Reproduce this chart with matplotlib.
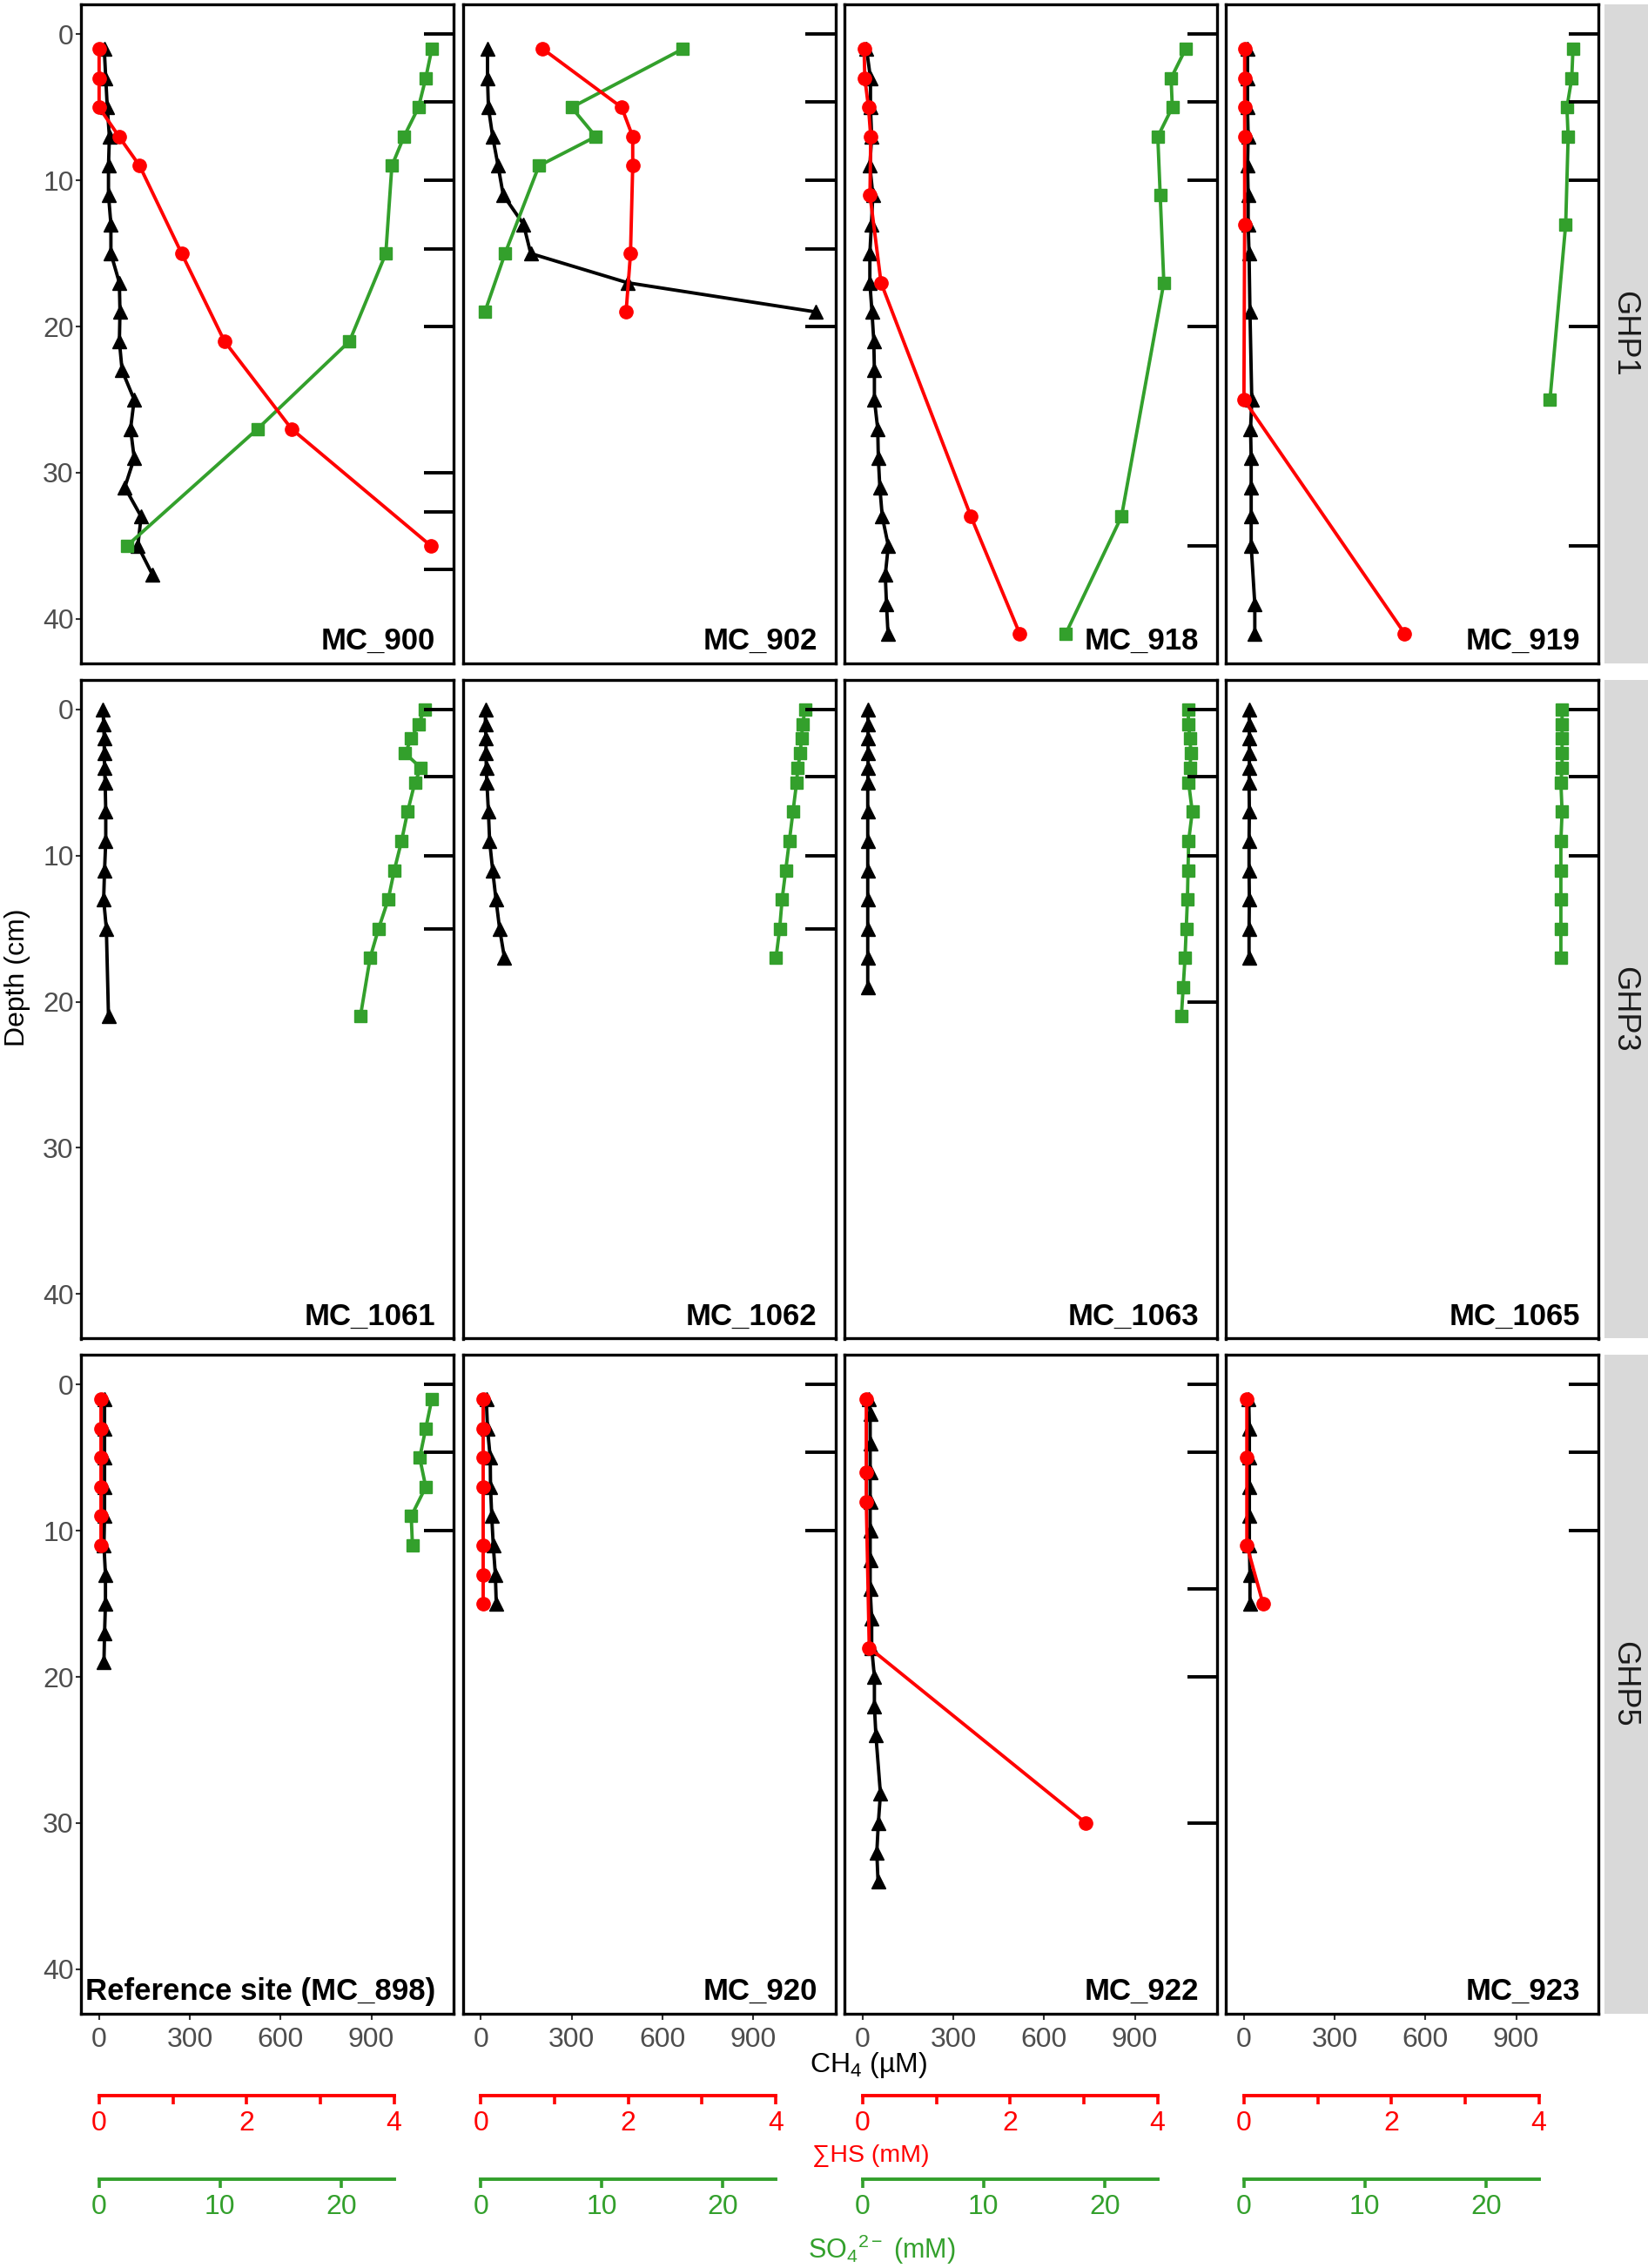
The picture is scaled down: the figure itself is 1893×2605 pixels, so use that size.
import numpy as np
import matplotlib
matplotlib.use('Agg')
import matplotlib.pyplot as plt
import matplotlib.transforms as mtransforms

plt.rcParams['font.family'] = ['Liberation Sans', 'DejaVu Sans']
plt.rcParams['mathtext.fontset'] = 'custom'
plt.rcParams['mathtext.rm'] = 'Liberation Sans'
plt.rcParams['mathtext.it'] = 'Liberation Sans:italic'
plt.rcParams['mathtext.bf'] = 'Liberation Sans:bold'

# secondary scales drawn on the CH4 axis (uM per mM)
HS_SCALE = 243.75
SO4_SCALE = 40.0

# ---- GHP1 ----
mc900_ch4_depth = [1, 3, 5, 7, 9, 11, 13, 15, 17, 19, 21, 23, 25, 27, 29, 31, 33, 35, 37]
mc900_ch4 = [17, 22, 27, 34, 31, 31, 39, 39, 67, 69, 67, 76, 116, 104, 116, 85, 139, 128, 177]
mc900_hs_depth = [1, 3, 5, 7, 9, 15, 21, 27, 35]
mc900_hs = [0, 0, 0, 0.27, 0.55, 1.12, 1.70, 2.61, 4.50]
mc900_so4_depth = [1, 3, 5, 7, 9, 15, 21, 27, 35]
mc900_so4 = [27.5, 27.0, 26.4, 25.2, 24.2, 23.7, 20.7, 13.1, 2.3]
mc900_marks = [0, 4.6, 10, 14.7, 20, 30, 32.7, 36.6]

mc902_ch4_depth = [1, 3, 5, 7, 9, 11, 13, 15, 17, 19]
mc902_ch4 = [22, 22, 25, 39, 57, 74, 141, 165, 485, 1108]
mc902_hs_depth = [1, 5, 7, 9, 15, 19]
mc902_hs = [0.84, 1.91, 2.06, 2.06, 2.03, 1.97]
mc902_so4_depth = [1, 5, 7, 9, 15, 19]
mc902_so4 = [16.7, 7.5, 9.5, 4.8, 2.0, 0.33]
mc902_marks = [0, 4.6, 10, 14.7, 20]

mc918_ch4_depth = [1, 3, 5, 7, 9, 11, 13, 15, 17, 19, 21, 23, 25, 27, 29, 31, 33, 35, 37, 39, 41]
mc918_ch4 = [13, 26, 26, 30, 24, 34, 29, 24, 24, 31, 37, 39, 39, 50, 52, 57, 65, 85, 75, 79, 84]
mc918_hs_depth = [1, 3, 5, 7, 11, 17, 33, 41]
mc918_hs = [0.02, 0.03, 0.08, 0.11, 0.10, 0.25, 1.47, 2.13]
mc918_so4_depth = [1, 3, 5, 7, 11, 17, 33, 41]
mc918_so4 = [26.7, 25.5, 25.6, 24.4, 24.6, 24.9, 21.4, 16.8]
mc918_marks = [0, 4.6, 10, 20, 35]

mc919_ch4_depth = [1, 3, 5, 7, 9, 11, 13, 15, 19, 25, 27, 29, 31, 33, 35, 39, 41]
mc919_ch4 = [12, 12, 12, 14, 12, 14, 14, 17, 20, 26, 22, 24, 24, 24, 24, 36, 36]
mc919_hs_depth = [1, 3, 5, 7, 13, 25, 41]
mc919_hs = [0.01, 0.01, 0.01, 0.01, 0.01, 0.0, 2.18]
mc919_so4_depth = [1, 3, 5, 7, 13, 25]
mc919_so4 = [27.2, 27.1, 26.7, 26.8, 26.6, 25.3]
mc919_marks = [0, 4.6, 10, 20, 35]

# ---- GHP3 ----
mc1061_ch4_depth = [0, 1, 2, 3, 4, 5, 7, 9, 11, 13, 15, 21]
mc1061_ch4 = [13, 15, 17, 17, 18, 20, 22, 22, 18, 15, 24, 31]
mc1061_so4_depth = [0, 1, 2, 3, 4, 5, 7, 9, 11, 13, 15, 17, 21]
mc1061_so4 = [26.9, 26.4, 25.8, 25.3, 26.6, 26.1, 25.5, 25.0, 24.4, 23.9, 23.1, 22.4, 21.6]
mc1061_marks = [0, 4.6, 10, 15]

mc1062_ch4_depth = [0, 1, 2, 3, 4, 5, 7, 9, 11, 13, 15, 17]
mc1062_ch4 = [15, 15, 17, 17, 18, 20, 25, 29, 39, 50, 62, 78]
mc1062_so4_depth = [0, 1, 2, 3, 4, 5, 7, 9, 11, 13, 15, 17]
mc1062_so4 = [26.8, 26.6, 26.5, 26.4, 26.2, 26.1, 25.8, 25.5, 25.2, 24.9, 24.7, 24.4]
mc1062_marks = [0, 4.6, 10, 15]

mc1063_ch4_depth = [0, 1, 2, 3, 4, 5, 7, 9, 11, 13, 15, 17, 19]
mc1063_ch4 = [17, 18, 18, 18, 18, 17, 17, 17, 17, 17, 17, 17, 17]
mc1063_so4_depth = [0, 1, 2, 3, 4, 5, 7, 9, 11, 13, 15, 17, 19, 21]
mc1063_so4 = [26.9, 26.95, 27.05, 27.15, 27.05, 26.95, 27.25, 26.95, 26.9, 26.85, 26.75, 26.65, 26.5, 26.35]
mc1063_marks = [0, 4.6, 10, 20]

mc1065_ch4_depth = [0, 1, 2, 3, 4, 5, 7, 9, 11, 13, 15, 17]
mc1065_ch4 = [17, 18, 18, 18, 18, 17, 18, 17, 17, 18, 17, 17]
mc1065_so4_depth = [0, 1, 2, 3, 4, 5, 7, 9, 11, 13, 15, 17]
mc1065_so4 = [26.3, 26.3, 26.3, 26.3, 26.3, 26.2, 26.3, 26.2, 26.2, 26.2, 26.2, 26.2]
mc1065_marks = [0, 4.6, 10]

# ---- GHP5 ----
mc898_ch4_depth = [1, 3, 5, 7, 9, 11, 13, 15, 17, 19]
mc898_ch4 = [18, 18, 18, 18, 18, 16, 21, 21, 18, 16]
mc898_hs_depth = [1, 3, 5, 7, 9, 11]
mc898_hs = [0.03, 0.03, 0.03, 0.03, 0.03, 0.03]
mc898_so4_depth = [1, 3, 5, 7, 9, 11]
mc898_so4 = [27.5, 27.0, 26.5, 27.0, 25.8, 25.9]
mc898_marks = [0, 4.6, 10]

mc920_ch4_depth = [1, 3, 5, 7, 9, 11, 13, 15]
mc920_ch4 = [18, 22, 31, 32, 36, 41, 48, 51]
mc920_hs_depth = [1, 3, 5, 7, 11, 13, 15]
mc920_hs = [0.03, 0.03, 0.03, 0.03, 0.03, 0.03, 0.03]
mc920_marks = [0, 4.6, 10]

mc922_ch4_depth = [1, 2, 4, 6, 8, 10, 12, 14, 16, 18, 20, 22, 24, 28, 30, 32, 34]
mc922_ch4 = [21, 25, 25, 25, 25, 25, 25, 25, 30, 30, 39, 39, 44, 59, 52, 47, 51]
mc922_hs_depth = [1, 6, 8, 18, 30]
mc922_hs = [0.05, 0.05, 0.05, 0.09, 3.03]
mc922_marks = [0, 4.6, 14, 20, 30]

mc923_ch4_depth = [1, 3, 5, 7, 9, 11, 13, 15]
mc923_ch4 = [16, 18, 18, 18, 18, 18, 20, 20]
mc923_hs_depth = [1, 5, 11, 15]
mc923_hs = [0.04, 0.04, 0.04, 0.26]
mc923_marks = [0, 4.6, 10]

groups = ['GHP1', 'GHP3', 'GHP5']
panels = [
    [('MC_900', mc900_ch4_depth, mc900_ch4, mc900_hs_depth, mc900_hs, mc900_so4_depth, mc900_so4, mc900_marks),
     ('MC_902', mc902_ch4_depth, mc902_ch4, mc902_hs_depth, mc902_hs, mc902_so4_depth, mc902_so4, mc902_marks),
     ('MC_918', mc918_ch4_depth, mc918_ch4, mc918_hs_depth, mc918_hs, mc918_so4_depth, mc918_so4, mc918_marks),
     ('MC_919', mc919_ch4_depth, mc919_ch4, mc919_hs_depth, mc919_hs, mc919_so4_depth, mc919_so4, mc919_marks)],
    [('MC_1061', mc1061_ch4_depth, mc1061_ch4, None, None, mc1061_so4_depth, mc1061_so4, mc1061_marks),
     ('MC_1062', mc1062_ch4_depth, mc1062_ch4, None, None, mc1062_so4_depth, mc1062_so4, mc1062_marks),
     ('MC_1063', mc1063_ch4_depth, mc1063_ch4, None, None, mc1063_so4_depth, mc1063_so4, mc1063_marks),
     ('MC_1065', mc1065_ch4_depth, mc1065_ch4, None, None, mc1065_so4_depth, mc1065_so4, mc1065_marks)],
    [('Reference site (MC_898)', mc898_ch4_depth, mc898_ch4, mc898_hs_depth, mc898_hs, mc898_so4_depth, mc898_so4, mc898_marks),
     ('MC_920', mc920_ch4_depth, mc920_ch4, mc920_hs_depth, mc920_hs, None, None, mc920_marks),
     ('MC_922', mc922_ch4_depth, mc922_ch4, mc922_hs_depth, mc922_hs, None, None, mc922_marks),
     ('MC_923', mc923_ch4_depth, mc923_ch4, mc923_hs_depth, mc923_hs, None, None, mc923_marks)],
]

RED = '#FF0000'
GREEN = '#33A02C'
TICK_C = '#333333'
LABEL_C = '#4D4D4D'

W, H = 1893, 2605
fig = plt.figure(figsize=(W / 100, H / 100), dpi=100)

col_left = [93, 531.5, 970, 1408]
col_w = 428
row_top = [5, 780.5, 1556]
row_h = 757

xlim = (-60, 1172)
ylim = (43.05, -2.05)


def fig_rect(left, top, width, height):
    return [left / W, 1 - (top + height) / H, width / W, height / H]


for r in range(3):
    for c in range(4):
        name, cd, cv, hd, hv, sd, sv, marks = panels[r][c]
        ax = fig.add_axes(fig_rect(col_left[c], row_top[r], col_w, row_h))
        ax.plot(cv, cd, color='black', marker='^', ms=11.5, lw=2.8, zorder=3)
        if sd is not None:
            ax.plot(np.array(sv) * SO4_SCALE, sd, color=GREEN, marker='s', ms=9.5, lw=2.8, zorder=4)
        if hd is not None:
            ax.plot(np.array(hv) * HS_SCALE, hd, color=RED, marker='o', ms=11, lw=2.8, zorder=5)

        # sampling-depth marks on the right border
        trans = mtransforms.blended_transform_factory(ax.transAxes, ax.transData)
        for d in marks:
            ax.plot([0.92, 1.0], [d, d], transform=trans, color='black', lw=2.8,
                    solid_capstyle='butt', clip_on=False, zorder=6)

        ax.set_xlim(*xlim)
        ax.set_ylim(*ylim)
        for s in ax.spines.values():
            s.set_linewidth(2.4)
            s.set_color('black')

        if c == 0:
            ax.set_yticks([0, 10, 20, 30, 40])
            ax.tick_params(axis='y', direction='out', length=4, width=1.5, color=TICK_C,
                           labelcolor=LABEL_C, labelsize=23, pad=2)
        else:
            ax.set_yticks([])
        if r == 2:
            ax.set_xticks([0, 300, 600, 900])
            ax.tick_params(axis='x', direction='out', length=5, width=1.5, color=TICK_C,
                           labelcolor=LABEL_C, labelsize=23, pad=6)
        else:
            ax.set_xticks([])

        ax.text(1 - 21 / col_w, 16 / row_h, name, transform=ax.transAxes, ha='right',
                va='baseline', fontsize=25, fontweight='bold', color='black', zorder=7)

    # facet strip
    sax = fig.add_axes(fig_rect(1843, row_top[r], 50, row_h))
    sax.set_facecolor('#D9D9D9')
    sax.set_xticks([])
    sax.set_yticks([])
    for s in sax.spines.values():
        s.set_visible(False)
    sax.text(0.45, 0.5, groups[r], transform=sax.transAxes, rotation=-90, ha='center',
             va='center', fontsize=26, color='#1A1A1A')

# secondary scale bars under each column
for c in range(4):
    for y_line, color, ticks, labels, minor in [
        (2407, RED, [0, 2, 4], ['0', '2', '4'], [1, 3]),
        (2503, GREEN, [0, 10, 20], ['0', '10', '20'], []),
    ]:
        bax = fig.add_axes(fig_rect(col_left[c], y_line, col_w, 0.01))
        bax.patch.set_visible(False)
        bax.set_xlim(*xlim)
        for k in ['top', 'left', 'right']:
            bax.spines[k].set_visible(False)
        bax.spines['bottom'].set_color(color)
        bax.spines['bottom'].set_linewidth(2.8)
        bax.spines['bottom'].set_bounds(0, 4 * HS_SCALE)
        scale = HS_SCALE if color == RED else SO4_SCALE
        bax.set_xticks(np.array(ticks) * scale)
        bax.set_xticklabels(labels)
        if minor:
            bax.set_xticks(np.array(minor) * scale, minor=True)
        bax.set_yticks([])
        bax.tick_params(axis='x', which='both', direction='out', length=7, width=2.6,
                        color=color, labelcolor=color, labelsize=23, pad=5)

fig.text(20 / W, 1 - 1123 / H, 'Depth (cm)', rotation=90, ha='center', va='center',
         fontsize=23, color='black')
fig.text(998 / W, 1 - 2372 / H, 'CH$_4$ (µM)', ha='center', va='center', fontsize=23,
         color='black')
fig.text(1000 / W, 1 - 2476 / H, '∑HS (mM)', ha='center', va='center', fontsize=20.5,
         color=RED)
fig.text(1013 / W, 1 - 2584 / H, 'SO$_4{}^{2-}$ (mM)', ha='center', va='center', fontsize=22,
         color=GREEN)

fig.savefig('out.png', dpi=100, facecolor='white')
